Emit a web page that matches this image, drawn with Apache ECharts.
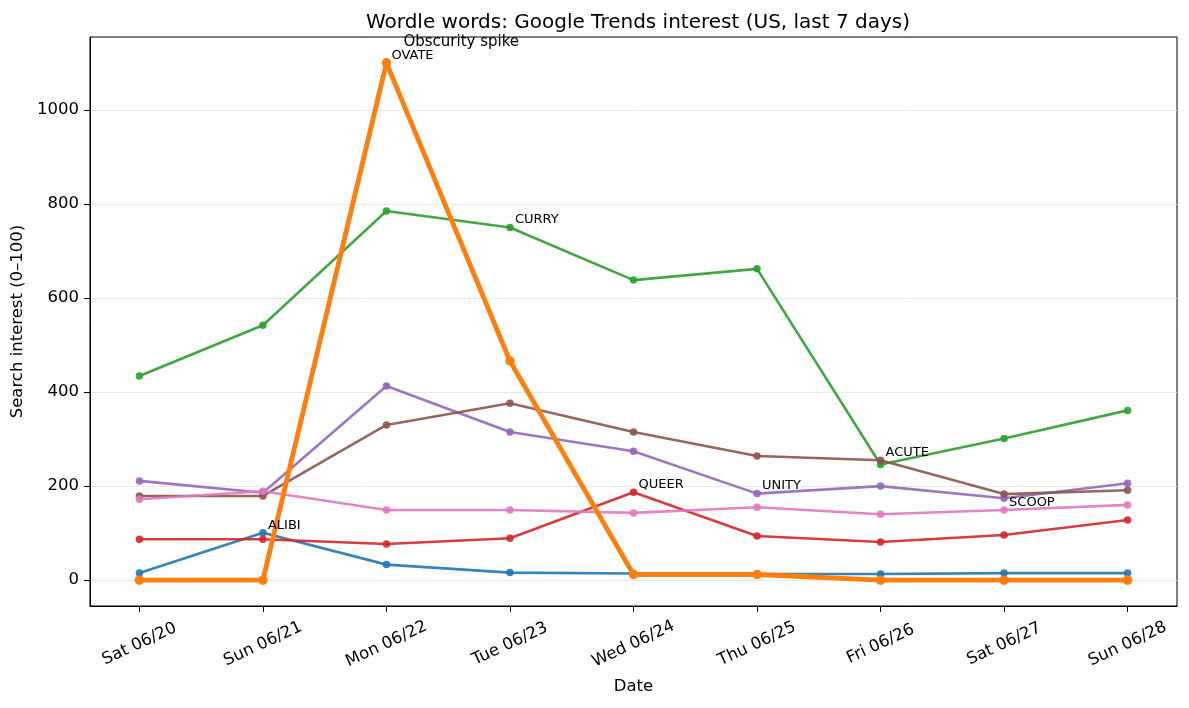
<!DOCTYPE html>
<html>
<head>
<meta charset="utf-8">
<script src="https://cdn.jsdelivr.net/npm/echarts@6/dist/echarts.min.js"></script>
<style>
  html, body { margin: 0; padding: 0; background: #fff; }
  #chart { width: 1189px; height: 708px; }
</style>
</head>
<body>
<div id="chart"></div>
<script>
// ---- data ----
const dates = ['Sat 06/20', 'Sun 06/21', 'Mon 06/22', 'Tue 06/23', 'Wed 06/24', 'Thu 06/25', 'Fri 06/26', 'Sat 06/27', 'Sun 06/28'];
const yTicks = [0, 200, 400, 600, 800, 1000];

const alibi = [15, 101, 33, 16, 14, 13, 13, 15, 15];
const ovate = [0, 0, 1100, 466, 12, 12, 0, 0, 0];
const curry = [434, 542, 785, 750, 638, 662, 246, 301, 361];
const queer = [87, 87, 77, 89, 187, 94, 81, 96, 128];
const unity = [211, 186, 413, 315, 274, 184, 200, 174, 206];
const acute = [179, 179, 330, 376, 315, 264, 255, 183, 191];
const scoop = [172, 189, 149, 149, 143, 155, 140, 149, 160];

const seriesNames = ['ALIBI', 'OVATE', 'CURRY', 'QUEER', 'UNITY', 'ACUTE', 'SCOOP'];
const seriesValues = [alibi, ovate, curry, queer, unity, acute, scoop];
const seriesColors = ['#1f77b4', '#ff7f0e', '#2ca02c', '#d62728', '#9467bd', '#8c564b', '#e377c2'];

// word of the day annotations: [series, day index, text]
const annotations = [
  ['ALIBI', 1, 'ALIBI'],
  ['OVATE', 2, 'OVATE'],
  ['CURRY', 3, 'CURRY'],
  ['QUEER', 4, 'QUEER'],
  ['UNITY', 5, 'UNITY'],
  ['ACUTE', 6, 'ACUTE'],
  ['SCOOP', 7, 'SCOOP']
];
const spikeNote = ['OVATE', 2, 'Obscurity spike'];

// ---- chart ----
const FONT = 'DejaVu Sans';
const chart = echarts.init(document.getElementById('chart'), null, { renderer: 'canvas' });

function markData(name) {
  const vals = seriesValues[seriesNames.indexOf(name)];
  const out = [];
  annotations.filter(a => a[0] === name).forEach(a => {
    out.push({
      coord: [a[1], vals[a[1]]],
      label: { formatter: a[2], fontSize: 13, offset: [5, -1] }
    });
  });
  if (spikeNote[0] === name) {
    out.push({
      coord: [spikeNote[1], vals[spikeNote[1]]],
      label: { formatter: spikeNote[2], fontSize: 15, offset: [17, -13] }
    });
  }
  return out;
}

const series = seriesNames.map((name, k) => {
  const thick = name === 'OVATE';
  return {
    name: name,
    type: 'line',
    data: seriesValues[k].map((v, i) => [i, v]),
    z: thick ? 4 : 2,
    symbol: 'circle',
    symbolSize: thick ? 9.5 : 7.5,
    showSymbol: true,
    lineStyle: { width: thick ? 4.8 : 2.6, color: seriesColors[k], opacity: thick ? 1 : 0.9 },
    itemStyle: { color: seriesColors[k], opacity: thick ? 1 : 0.9 },
    emphasis: { disabled: true },
    markPoint: {
      silent: true,
      symbol: 'circle',
      symbolSize: 1,
      itemStyle: { color: 'rgba(0,0,0,0)' },
      z: 10,
      label: {
        show: true,
        position: 'inside',
        align: 'left',
        verticalAlign: 'bottom',
        color: '#000',
        fontFamily: FONT
      },
      data: markData(name)
    }
  };
});

const option = {
  animation: false,
  backgroundColor: '#fff',
  textStyle: { fontFamily: FONT },
  title: {
    text: 'Wordle words: Google Trends interest (US, last 7 days)',
    left: 633,
    top: 8,
    textAlign: 'center',
    textStyle: { fontFamily: FONT, fontSize: 20, fontWeight: 'normal', color: '#000' }
  },
  grid: {
    left: 90, right: 12, top: 37, bottom: 102,
    outerBoundsMode: 'none',
    containLabel: false,
    show: true, borderColor: '#000', borderWidth: 1, backgroundColor: 'transparent'
  },
  xAxis: {
    type: 'value',
    min: -0.4,
    max: 8.4,
    name: 'Date',
    nameLocation: 'middle',
    nameGap: 72,
    nameTextStyle: { fontFamily: FONT, fontSize: 16.5, color: '#000' },
    axisLine: { show: true, onZero: false, lineStyle: { color: '#000', width: 1 } },
    axisTick: { show: true, length: 6, lineStyle: { color: '#000' }, customValues: dates.map((d, i) => i) },
    splitLine: { show: false },
    axisLabel: {
      customValues: dates.map((d, i) => i),
      formatter: v => dates[Math.round(v)],
      rotate: 25,
      align: 'center',
      verticalAlign: 'middle',
      margin: 38,
      fontFamily: FONT,
      fontSize: 16.5,
      color: '#000'
    }
  },
  yAxis: {
    type: 'value',
    min: -55,
    max: 1155,
    name: 'Search interest (0\u2013100)',
    nameLocation: 'middle',
    nameGap: 60,
    nameTextStyle: { fontFamily: FONT, fontSize: 16.5, color: '#000' },
    axisLine: { show: true, onZero: false, lineStyle: { color: '#000', width: 1 } },
    axisTick: { show: true, length: 6, lineStyle: { color: '#000' }, customValues: yTicks },
    axisLabel: {
      customValues: yTicks,
      formatter: v => String(v),
      margin: 11,
      fontFamily: FONT,
      fontSize: 16.5,
      color: '#000'
    },
    splitLine: { show: true, lineStyle: { color: '#e8e8e8', width: 1 } }
  },
  series: series
};

chart.setOption(option);
</script>
</body>
</html>
